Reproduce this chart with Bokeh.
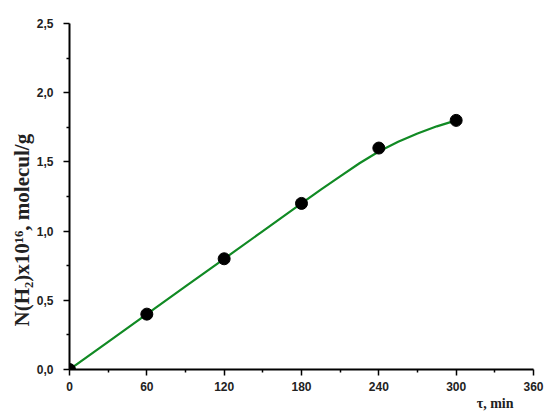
from bokeh.plotting import figure
from bokeh.embed import file_html
from bokeh.resources import INLINE
from bokeh.models import FixedTicker, CustomJSTickFormatter, Title, Range1d

# measured points
time_min = [0, 60, 120, 180, 240, 300]
n_h2 = [0.0, 0.4, 0.8, 1.2, 1.6, 1.8]

# fitted curve
curve_t = [0, 30, 60, 90, 120, 150, 180, 195, 210, 225, 240, 255, 270, 285, 300]
curve_v = [0.0, 0.2, 0.4, 0.6, 0.8, 1.0, 1.2, 1.30, 1.395, 1.49, 1.575, 1.645, 1.705, 1.757, 1.80]

x_ticks = [0, 60, 120, 180, 240, 300, 360]
y_ticks = [0.0, 0.5, 1.0, 1.5, 2.0, 2.5]

p = figure(width=550, height=415, output_backend="svg", toolbar_location=None,
           x_range=Range1d(0, 360), y_range=Range1d(0, 2.5),
           min_border_left=69, min_border_right=17, min_border_top=23, min_border_bottom=46)
p.outline_line_color = None
p.xgrid.visible = False
p.ygrid.visible = False
p.background_fill_color = "white"

p.line(curve_t, curve_v, line_color="#118a24", line_width=2.2)
p.scatter(time_min, n_h2, size=12, color="black")

for ax in (p.xaxis[0], p.yaxis[0]):
    ax.axis_line_width = 2
    ax.axis_line_color = "black"
    ax.major_tick_line_width = 1.5
    ax.minor_tick_line_width = 1.5
    ax.major_tick_in = 0
    ax.major_tick_out = 6
    ax.minor_tick_in = 0
    ax.minor_tick_out = 3
    ax.major_label_text_font = "Liberation Sans"
    ax.major_label_text_font_style = "bold"
    ax.major_label_text_font_size = "12px"
    ax.major_label_text_color = "#222222"

p.xaxis[0].ticker = FixedTicker(ticks=x_ticks, minor_ticks=[30, 90, 150, 210, 270, 330])
p.yaxis[0].ticker = FixedTicker(ticks=y_ticks, minor_ticks=[0.25, 0.75, 1.25, 1.75, 2.25])
p.yaxis[0].formatter = CustomJSTickFormatter(code="return tick.toFixed(1).replace('.', ',');")
p.xaxis[0].major_label_standoff = 6
p.yaxis[0].major_label_standoff = 10

p.add_layout(Title(text="τ, min", align="right", offset=20, standoff=0,
                   text_font="Liberation Serif", text_font_style="bold", text_font_size="14px",
                   text_color="#222222"), "below")
p.add_layout(Title(text="N(H₂)x10¹⁶, molecul/g", align="left", offset=43, standoff=0,
                   text_font="Liberation Serif", text_font_style="bold", text_font_size="21px",
                   text_color="#222222"), "left")

open("out.html", "w").write(file_html(p, INLINE))
